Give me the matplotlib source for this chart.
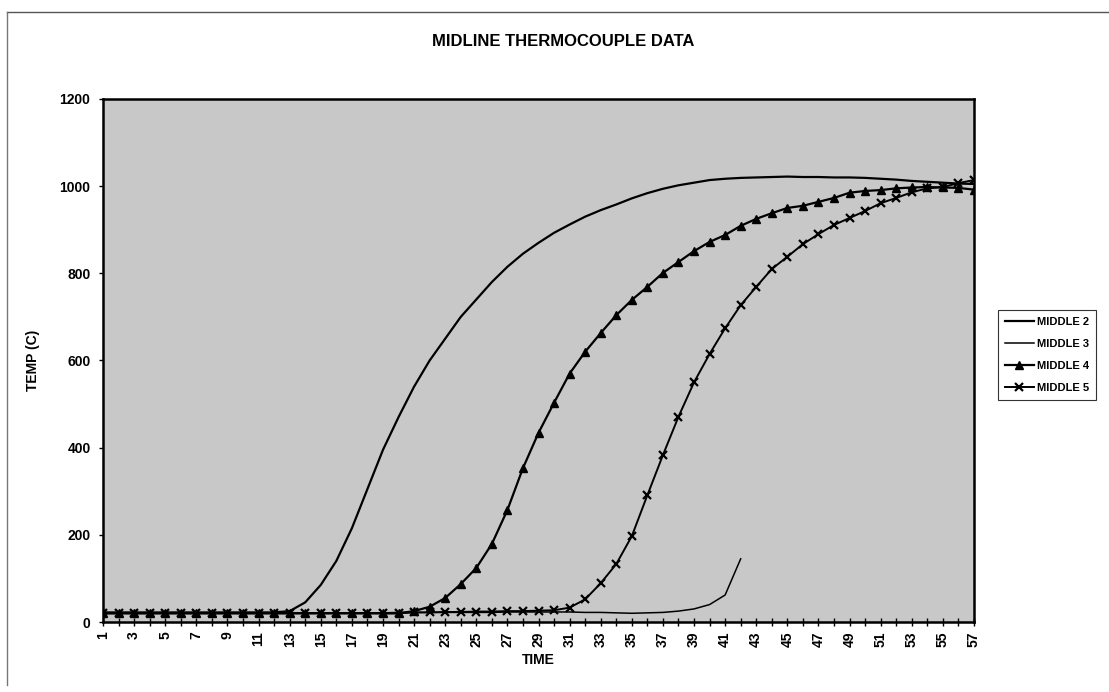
import numpy as np
import matplotlib
matplotlib.use("Agg")
import matplotlib.pyplot as plt
from matplotlib.lines import Line2D

plt.rcParams['font.family'] = ['Liberation Sans', 'DejaVu Sans']
plt.rcParams['font.weight'] = 'bold'

# time steps (category axis)
time = list(range(1, 58))

middle2 = [22, 22, 22, 22, 22, 22, 22, 22, 22, 22, 22, 22,
           25, 45, 85, 140, 215, 305, 395, 470, 540, 600, 650, 700,
           740, 780, 815, 845, 870, 893, 912, 930, 945, 958, 972, 984,
           994, 1002, 1008, 1014, 1017, 1019, 1020, 1021, 1022, 1021, 1021, 1020,
           1020, 1019, 1017, 1015, 1012, 1010, 1008, 1006, 1005]

middle3 = [20, 20, 20, 20, 20, 20, 20, 20, 20, 20, 20, 21,
           21, 21, 21, 21, 21, 21, 21, 22, 22, 22, 22, 22,
           22, 22, 23, 23, 23, 23, 23, 22, 22, 21, 20, 21,
           22, 25, 30, 40, 62, 145]

middle4 = [20, 20, 20, 20, 20, 20, 20, 20, 20, 20, 20, 20,
           20, 20, 20, 20, 20, 20, 20, 20, 25, 35, 55, 87,
           124, 179, 257, 353, 434, 503, 570, 620, 663, 704, 739, 769,
           801, 826, 851, 872, 888, 909, 925, 938, 950, 955, 964, 973,
           985, 989, 991, 995, 997, 998, 997, 996, 992]

middle5 = [20, 20, 20, 20, 20, 20, 20, 20, 20, 20, 20, 20,
           20, 20, 20, 20, 20, 20, 20, 20, 22, 22, 23, 23,
           24, 24, 25, 25, 26, 27, 33, 52, 89, 133, 197, 291,
           383, 471, 550, 615, 674, 727, 769, 810, 838, 867, 890, 911,
           927, 943, 961, 973, 986, 995, 998, 1007, 1014]

fig = plt.figure(figsize=(11.09, 6.92), dpi=100)
ax = fig.add_axes([103 / 1109, 1 - 622 / 692, 871 / 1109, 523 / 692])
ax.set_facecolor('#c8c8c8')

ax.plot(time, middle2, color='black', lw=1.6, label='MIDDLE 2')
ax.plot(time[:len(middle3)], middle3, color='black', lw=1.1, label='MIDDLE 3')
ax.plot(time, middle4, color='black', lw=1.6, marker='^', markersize=5.5,
        label='MIDDLE 4')
ax.plot(time, middle5, color='black', lw=1.4, marker='x', markersize=6,
        markeredgewidth=1.6, label='MIDDLE 5')

ax.set_xlim(1, 57)
ax.set_ylim(0, 1200)
ax.set_xticks(time)
ax.set_xticklabels([str(t) if t % 2 == 1 else '' for t in time],
                   rotation=90, fontsize=10, fontweight='bold')
ax.set_yticks(range(0, 1201, 200))
ax.set_yticklabels([str(v) for v in range(0, 1201, 200)], fontsize=10,
                   fontweight='bold')
ax.tick_params(axis='x', direction='inout', length=6, width=1, pad=4)
ax.tick_params(axis='y', direction='out', length=3, width=1, pad=6)
for s in ax.spines.values():
    s.set_linewidth(1.8)
    s.set_color('black')

ax.set_xlabel('TIME', fontsize=10, fontweight='bold', labelpad=4)
ax.set_ylabel('TEMP (C)', fontsize=10, fontweight='bold', labelpad=14)

fig.text(563 / 1109, 1 - 42 / 692, 'MIDLINE THERMOCOUPLE DATA', ha='center',
         va='center', fontsize=12, fontweight='bold')

leg = ax.legend(loc='upper left', bbox_to_anchor=(998 / 1109, 1 - 310 / 692),
                bbox_transform=fig.transFigure, fontsize=8, frameon=True,
                fancybox=False, edgecolor='black', handlelength=2.6,
                handletextpad=0.3, labelspacing=1.1, borderpad=0.6,
                borderaxespad=0)
leg.get_frame().set_linewidth(0.8)
for txt in leg.get_texts():
    txt.set_fontweight('bold')

# outer chart border (top and left)
fig.add_artist(Line2D([7 / 1109, 1], [1 - 12 / 692, 1 - 12 / 692],
                      transform=fig.transFigure, color='#555555', lw=1))
fig.add_artist(Line2D([7 / 1109, 7 / 1109], [1 - 12 / 692, 0.01],
                      transform=fig.transFigure, color='#777777', lw=1))

fig.savefig('out.png', dpi=100)
